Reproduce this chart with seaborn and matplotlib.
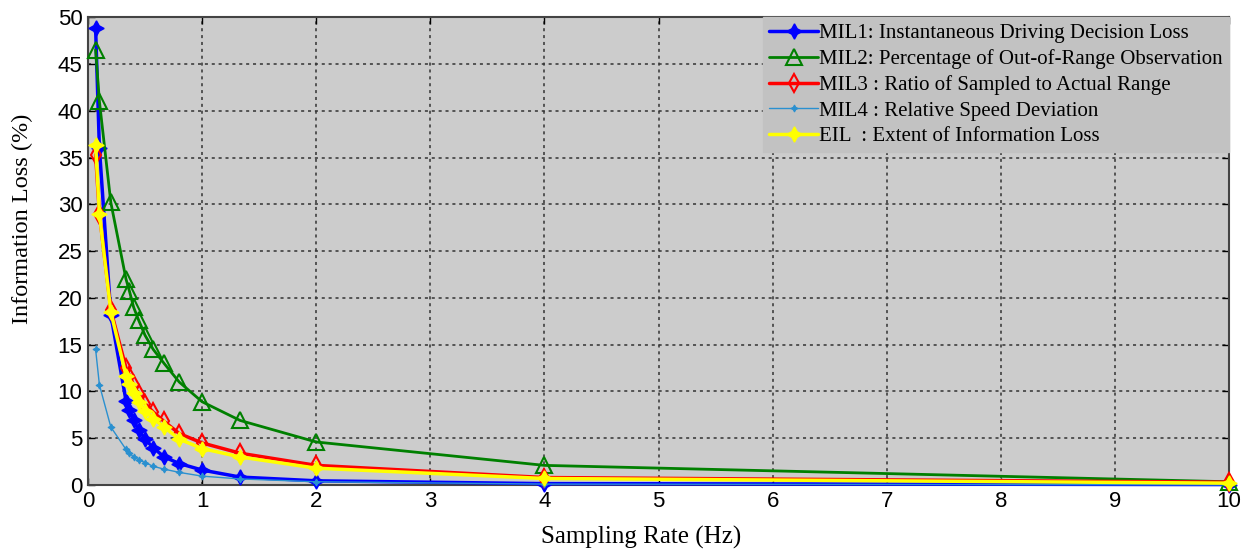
import numpy as np
import pandas as pd
import matplotlib
matplotlib.use("Agg")
import matplotlib.pyplot as plt
import seaborn as sns

# ---- data ----
periods = [15, 10, 5, 3, 2.75, 2.5, 2.25, 2, 1.75, 1.5, 1.25, 1, 0.75, 0.5, 0.25, 0.1]
rate = [1.0 / p for p in periods]

mil1 = [48.8, 36.0, 18.2, 9.0, 8.0, 6.9, 5.9, 4.9, 4.0, 3.0, 2.3, 1.6, 0.85, 0.45, 0.15, 0.05]
mil2 = [46.5, 41.0, 30.2, 22.0, 20.7, 19.0, 17.6, 16.0, 14.5, 13.0, 11.0, 8.9, 6.9, 4.6, 2.1, 0.35]
mil3 = [35.3, 29.0, 18.7, 12.5, 11.7, 10.7, 9.7, 8.7, 7.8, 6.8, 5.5, 4.5, 3.4, 2.1, 0.8, 0.3]
mil4 = [14.5, 10.7, 6.2, 3.8, 3.4, 3.0, 2.7, 2.4, 2.0, 1.7, 1.35, 0.95, 0.65, 0.35, 0.1, 0.02]
eil = [36.3, 29.0, 18.5, 11.7, 10.8, 9.8, 8.9, 7.9, 7.1, 6.2, 4.9, 3.9, 3.0, 1.8, 0.7, 0.2]

labels = [
    "MIL1: Instantaneous Driving Decision Loss",
    "MIL2: Percentage of Out-of-Range Observation",
    "MIL3 : Ratio of Sampled to Actual Range",
    "MIL4 : Relative Speed Deviation",
    "EIL  : Extent of Information Loss",
]
series = [mil1, mil2, mil3, mil4, eil]

x_ticks = list(range(0, 11))
y_ticks = list(range(0, 55, 5))

# ---- styling ----
sns.set_style("ticks")
plt.rcParams["font.family"] = ["Liberation Sans", "DejaVu Sans"]
plt.rcParams["text.color"] = "black"
plt.rcParams["axes.labelcolor"] = "black"
plt.rcParams["xtick.color"] = "black"
plt.rcParams["ytick.color"] = "black"

fig = plt.figure(figsize=(12.5, 5.54), dpi=100)
ax = fig.add_axes([0.0704, 0.1245, 0.9128, 0.8445])
ax.set_facecolor("#cccccc")

styles = [
    dict(color="#0000ff", lw=2.5, marker=(4, 1, 0), ms=11, mfc="#0000ff", mec="#0000ff", mew=1),
    dict(color="#008000", lw=2.0, marker="^", ms=12, mfc="none", mec="#008000", mew=1.5),
    dict(color="#ff0000", lw=2.5, marker="d", ms=9, mfc="none", mec="#ff0000", mew=1.5),
    dict(color="#2a90d0", lw=1.0, marker=(4, 1, 0), ms=5, mfc="#2a90d0", mec="#2a90d0", mew=0.8),
    dict(color="#ffff00", lw=2.5, marker=(4, 1, 0), ms=11, mfc="#ffff00", mec="#ffff00", mew=1),
]

for vals, lab, st in zip(series, labels, styles):
    df = pd.DataFrame({"rate": rate, "loss": vals})
    sns.lineplot(data=df, x="rate", y="loss", ax=ax, label=lab,
                 color=st["color"], linewidth=st["lw"], marker=st["marker"],
                 markersize=st["ms"], markerfacecolor=st["mfc"],
                 markeredgecolor=st["mec"], markeredgewidth=st["mew"],
                 sort=False, estimator=None, clip_on=False, zorder=3)

ax.set_xlim(0, 10)
ax.set_ylim(0, 50)
ax.set_xticks(x_ticks)
ax.set_yticks(y_ticks)
ax.set_xticklabels([str(t) for t in x_ticks], fontsize=16)
ax.set_yticklabels([str(t) for t in y_ticks], fontsize=16)
ax.tick_params(direction="in", length=5, width=1, top=True, right=True, pad=4,
               labelcolor="black")

ax.grid(True, color="#333333", linestyle=(0, (2, 2.5)), linewidth=1.1)
ax.set_axisbelow(True)
for s in ax.spines.values():
    s.set_color("#444444")
    s.set_linewidth(1.5)

ax.set_xlabel("Sampling Rate (Hz)", fontsize=18, family=["Liberation Serif"], color="black")
ax.set_ylabel("Information Loss (%)", fontsize=17.5, family=["Liberation Serif"], color="black")
ax.xaxis.set_label_coords(0.485, -0.088)
ax.yaxis.set_label_coords(-0.048, 0.568)

leg = ax.legend(loc="upper right", frameon=True, fancybox=False,
                prop={"family": "Liberation Serif", "size": 15},
                handlelength=2.35, handletextpad=0.05, labelspacing=0.29,
                borderpad=0.3, borderaxespad=0.0)
leg.get_frame().set_facecolor("#c2c2c2")
leg.get_frame().set_edgecolor("#c2c2c2")
leg.get_frame().set_alpha(1.0)
leg.set_zorder(5)
for t in leg.get_texts():
    t.set_color("black")

fig.savefig("out.png", dpi=100, facecolor="white")
